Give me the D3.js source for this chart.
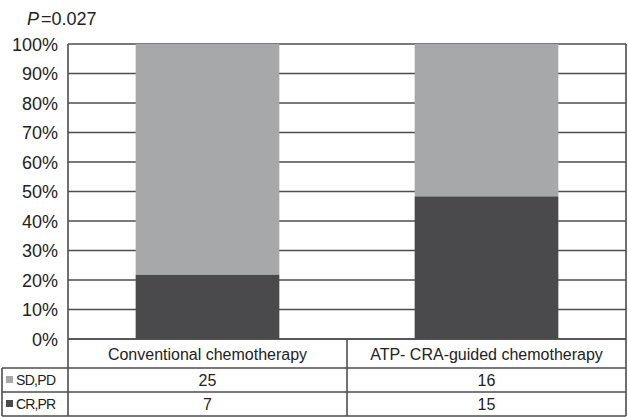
<!DOCTYPE html>
<html>
<head>
<meta charset="utf-8">
<script src="https://cdn.jsdelivr.net/npm/d3@7"></script>
<style>
  body { margin: 0; background: #fff; }
  text { font-family: "Liberation Sans", Arial, sans-serif; fill: #222; }
</style>
</head>
<body>
<div id="chart"></div>
<script>
const groups = ["Conventional chemotherapy", "ATP- CRA-guided chemotherapy"];
const seriesNames = ["CR,PR", "SD,PD"];
const crpr = [7, 15];
const sdpd = [25, 16];
const yTicks = [0, 0.1, 0.2, 0.3, 0.4, 0.5, 0.6, 0.7, 0.8, 0.9, 1];
const colors = { "CR,PR": "#4a4a4c", "SD,PD": "#a7a8aa" };

const width = 628, height = 417;
const margin = { top: 44, right: 2, bottom: 78, left: 68 };

const svg = d3.select("#chart").append("svg")
  .attr("width", width).attr("height", height);

const x = d3.scaleBand()
  .domain(groups)
  .range([margin.left, width - margin.right])
  .paddingInner(0).paddingOuter(0);

const y = d3.scaleLinear()
  .domain([0, 1])
  .range([height - margin.bottom, margin.top]);

const rows = groups.map((g, i) => ({ group: g, "CR,PR": crpr[i], "SD,PD": sdpd[i] }));
const stacked = d3.stack().keys(seriesNames).offset(d3.stackOffsetExpand)(rows);

// gridlines
svg.append("g")
  .selectAll("line")
  .data(yTicks)
  .join("line")
  .attr("x1", margin.left).attr("x2", width - margin.right)
  .attr("y1", d => y(d)).attr("y2", d => y(d))
  .attr("stroke", "#4d4d4d").attr("stroke-width", 1.6);

// bars
const barW = x.bandwidth() * 0.515;
svg.append("g")
  .selectAll("g")
  .data(stacked)
  .join("g")
  .attr("fill", d => colors[d.key])
  .selectAll("rect")
  .data(d => d)
  .join("rect")
  .attr("x", d => x(d.data.group) + (x.bandwidth() - barW) / 2)
  .attr("y", d => y(d[1]))
  .attr("width", barW)
  .attr("height", d => y(d[0]) - y(d[1]));

// y tick labels
svg.append("g")
  .selectAll("text")
  .data(yTicks)
  .join("text")
  .attr("x", 58)
  .attr("y", d => y(d) + 6.5)
  .attr("text-anchor", "end")
  .style("font-size", "18px")
  .text(d3.format(".0%"));

// P value
svg.append("text")
  .attr("x", 27).attr("y", 25)
  .style("font-size", "18px")
  .html('<tspan font-style="italic">P</tspan><tspan dx="2">=0.027</tspan>');

// data table
const y0 = y(0);
const rowLines = [y0, 368, 392, 416];
const lineColor = "#4d4d4d";
const tbl = svg.append("g").attr("stroke", lineColor).attr("stroke-width", 1.6);
// horizontal lines
tbl.append("line").attr("x1", margin.left).attr("x2", width - margin.right)
  .attr("y1", rowLines[0]).attr("y2", rowLines[0]);
[1, 2, 3].forEach(i => {
  tbl.append("line").attr("x1", 2).attr("x2", width - margin.right)
    .attr("y1", rowLines[i]).attr("y2", rowLines[i]);
});
// vertical lines
tbl.append("line").attr("x1", margin.left).attr("x2", margin.left)
  .attr("y1", margin.top).attr("y2", rowLines[3]);
tbl.append("line").attr("x1", width - margin.right).attr("x2", width - margin.right)
  .attr("y1", margin.top).attr("y2", rowLines[3]);
tbl.append("line").attr("x1", x(groups[1])).attr("x2", x(groups[1]))
  .attr("y1", y0).attr("y2", rowLines[3]);
tbl.append("line").attr("x1", 2).attr("x2", 2)
  .attr("y1", rowLines[1]).attr("y2", rowLines[3]);

// header labels
svg.append("g")
  .selectAll("text")
  .data(groups)
  .join("text")
  .attr("x", d => x(d) + x.bandwidth() / 2)
  .attr("y", (rowLines[0] + rowLines[1]) / 2 + 6)
  .attr("text-anchor", "middle")
  .style("font-size", "16px")
  .text(d => d);

// table rows: SD,PD then CR,PR
const tableRows = [
  { key: "SD,PD", vals: sdpd },
  { key: "CR,PR", vals: crpr }
];
tableRows.forEach((r, i) => {
  const cy = (rowLines[i + 1] + rowLines[i + 2]) / 2;
  svg.append("rect")
    .attr("x", 6).attr("y", cy - 4)
    .attr("width", 7).attr("height", 7)
    .attr("fill", colors[r.key]);
  svg.append("text")
    .attr("x", 16).attr("y", cy + 5)
    .style("font-size", "14px")
    .attr("textLength", r.key === "SD,PD" ? 40 : 40)
    .text(r.key);
  svg.append("g")
    .selectAll("text")
    .data(r.vals)
    .join("text")
    .attr("x", (d, j) => x(groups[j]) + x.bandwidth() / 2)
    .attr("y", cy + 6)
    .attr("text-anchor", "middle")
    .style("font-size", "16px")
    .text(d => d);
});
</script>
</body>
</html>
